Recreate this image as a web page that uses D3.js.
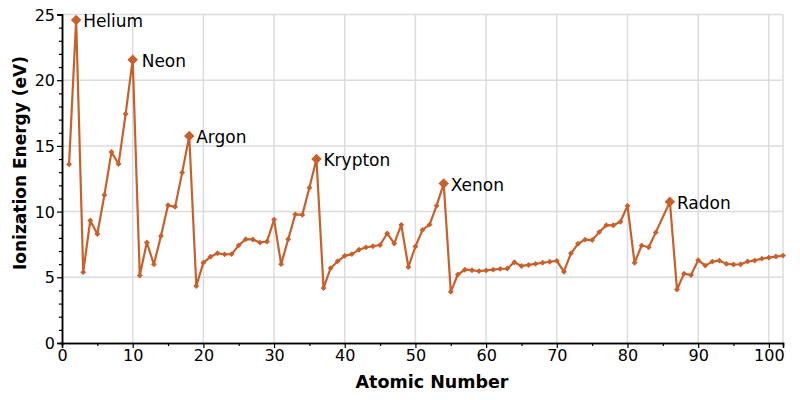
<!DOCTYPE html>
<html>
<head>
<meta charset="utf-8">
<style>
body { margin: 0; background: #fff; }
svg text { font-family: "DejaVu Sans", sans-serif; }
</style>
</head>
<body>
<div id="target"></div>
<script src="https://cdn.jsdelivr.net/npm/d3@7.8.3/dist/d3.min.js"></script>
<script>
// first ionization energy by atomic number (astatine, 85, left out like the source)
const atomicNumbers = [
  1,2,3,4,5,6,7,8,9,10,11,12,13,14,15,16,17,18,19,20,
  21,22,23,24,25,26,27,28,29,30,31,32,33,34,35,36,37,38,39,40,
  41,42,43,44,45,46,47,48,49,50,51,52,53,54,55,56,57,58,59,60,
  61,62,63,64,65,66,67,68,69,70,71,72,73,74,75,76,77,78,79,80,
  81,82,83,84,86,87,88,89,90,91,92,93,94,95,96,97,98,99,100,101,102
];
const energies = [
  13.598,24.587,5.392,9.323,8.298,11.260,14.534,13.618,17.423,21.565,
  5.139,7.646,5.986,8.152,10.487,10.360,12.968,15.760,4.341,6.113,
  6.561,6.828,6.746,6.767,7.434,7.902,7.881,7.640,7.726,9.394,
  5.999,7.899,9.789,9.752,11.814,14.000,4.177,5.695,6.217,6.634,
  6.759,7.092,7.28,7.361,7.459,8.337,7.576,8.994,5.786,7.344,
  8.608,9.010,10.451,12.130,3.894,5.212,5.577,5.539,5.473,5.525,
  5.582,5.644,5.670,6.150,5.864,5.939,6.022,6.108,6.184,6.254,
  5.426,6.825,7.550,7.864,7.834,8.438,8.967,8.959,9.226,10.438,
  6.108,7.417,7.286,8.417,10.749,4.073,5.279,5.17,6.307,5.89,
  6.194,6.266,6.026,5.974,5.991,6.198,6.282,6.42,6.50,6.58,6.65
];
const nobleNumbers = [2, 10, 18, 36, 54, 86];
const nobleNames = ["Helium", "Neon", "Argon", "Krypton", "Xenon", "Radon"];

const xTicks = [0,10,20,30,40,50,60,70,80,90,100];
const yTicks = [0,5,10,15,20,25];

const width = 800, height = 400;
const margin = {top: 14.5, right: 17, bottom: 57, left: 62};

const data = atomicNumbers.map((z, i) => ({z, e: energies[i]}));

const svg = d3.select("#target").append("svg")
  .attr("width", width).attr("height", height);

const x = d3.scaleLinear().domain([0, 102]).range([margin.left, width - margin.right]);
const y = d3.scaleLinear().domain([0, 25]).range([height - margin.bottom, margin.top]);

// grid
const grid = svg.append("g").attr("stroke", "#dcdcdc").attr("stroke-width", 1.5);
grid.selectAll(".gx").data(xTicks.slice(1).concat([102])).enter().append("line")
  .attr("x1", d => x(d)).attr("x2", d => x(d))
  .attr("y1", y(0)).attr("y2", y(25));
grid.selectAll(".gy").data(yTicks.slice(1)).enter().append("line")
  .attr("x1", x(0)).attr("x2", x(102))
  .attr("y1", d => y(d)).attr("y2", d => y(d));

// axes
const xAxis = d3.axisBottom(x).tickValues(xTicks).tickSize(5).tickPadding(2);
const xMinor = d3.axisBottom(x).tickValues(d3.range(5, 102, 10)).tickSize(3).tickFormat("");
const yAxis = d3.axisLeft(y).tickValues(yTicks).tickSize(5).tickPadding(2);
const yMinor = d3.axisLeft(y).tickValues(d3.range(0, 26).filter(d => d % 5)).tickSize(3).tickFormat("");

function styleAxis(g) {
  g.select(".domain").attr("stroke", "#000").attr("stroke-width", 1.5);
  g.selectAll(".tick line").attr("stroke", "#000").attr("stroke-width", 1.2);
  g.selectAll(".tick text").attr("fill", "#000").style("font-size", "16px")
    .style("font-family", "DejaVu Sans, sans-serif");
}
svg.append("g").attr("transform", `translate(0,${y(0)})`).call(xMinor).call(styleAxis);
svg.append("g").attr("transform", `translate(${x(0)},0)`).call(yMinor).call(styleAxis);
svg.append("g").attr("transform", `translate(0,${y(0)})`).call(xAxis).call(styleAxis);
svg.append("g").attr("transform", `translate(${x(0)},0)`).call(yAxis).call(styleAxis)
  .selectAll(".tick text").attr("dy", "0.35em");

// titles
svg.append("text")
  .attr("x", 432).attr("y", 388)
  .attr("text-anchor", "middle")
  .style("font-size", "17.5px").style("font-weight", "bold")
  .text("Atomic Number");
svg.append("text")
  .attr("transform", "translate(26,163) rotate(-90)")
  .attr("text-anchor", "middle")
  .style("font-size", "17px").style("font-weight", "bold")
  .text("Ionization Energy (eV)");

// line
const color = "#c8602c";
const line = d3.line().x(d => x(d.z)).y(d => y(d.e));
svg.append("path").datum(data)
  .attr("fill", "none").attr("stroke", color).attr("stroke-width", 2.2)
  .attr("stroke-linejoin", "round")
  .attr("d", line);

// markers
const isNoble = d => nobleNumbers.includes(d.z);
svg.append("g").selectAll("path").data(data).enter().append("path")
  .attr("transform", d => `translate(${x(d.z)},${y(d.e)})`)
  .attr("d", d => d3.symbol(d3.symbolDiamond2, isNoble(d) ? 70 : 22)())
  .attr("fill", color);

// noble gas labels
const labels = nobleNumbers.map((z, i) => ({z, name: nobleNames[i], e: energies[atomicNumbers.indexOf(z)]}));
svg.append("g").selectAll("text").data(labels).enter().append("text")
  .attr("x", d => x(d.z) + (d.z === 10 ? 9 : 7)).attr("y", d => y(d.e) + 1)
  .attr("dy", "0.35em")
  .style("font-size", "17px").attr("fill", "#000")
  .text(d => d.name);
</script>
</body>
</html>
